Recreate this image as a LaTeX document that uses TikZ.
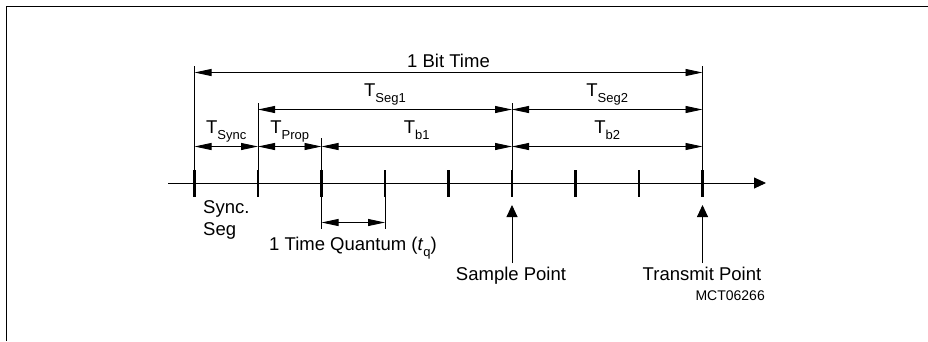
\documentclass[tikz,border=0pt]{standalone}
\usepackage{fontspec}
\setmainfont{Liberation Sans}
\usetikzlibrary{arrows.meta,calc}

\newcommand{\lowsub}[1]{\raisebox{-6pt}{\fontsize{13}{13}\selectfont #1}}

\begin{document}
\begin{tikzpicture}[x=1pt,y=-1pt,
  dim/.style={{Triangle[length=17pt,width=7pt]}-{Triangle[length=17pt,width=7pt]},line width=0.9pt},
  ext/.style={line width=0.9pt},
  lbl/.style={font=\fontsize{18.5}{22}\selectfont,inner sep=0pt,anchor=base},
  pointer/.style={-{Triangle[length=12pt,width=11pt]},line width=0.9pt}]
\useasboundingbox (0,0) rectangle (928,341);
% Frame
\draw[line width=1.2pt] (6.5,341) -- (6.5,6.5) -- (928,6.5);
% Levels of the dimension lines
\coordinate (lvTop) at (0,66);
\coordinate (lvMid) at (0,103);
\coordinate (lvLow) at (0,138);
\coordinate (lvBit) at (0,72.5);
\coordinate (lvSeg) at (0,109.5);
\coordinate (lvTq) at (0,146.5);
\coordinate (lvQ) at (0,222.5);
\coordinate (lvQe) at (0,228.5);
\coordinate (lvPt) at (0,263);
% Time axis
\coordinate (ax0) at (168,183);
\coordinate (ax1) at (766,183);
\draw[-{Triangle[length=12pt,width=11pt]},line width=0.9pt] (ax0) -- (ax1);
% Quantum ticks
\foreach \i in {0,...,8} {
  \coordinate (t\i) at ({194.5+63.5*\i},183);
  \coordinate (tb\i) at ({194.5+63.5*\i},197);
  \draw[line width=2.2pt] ($(t\i)+(0,-13)$) -- (tb\i);
}
% Extension lines
\draw[ext] (t0) -- (t0 |- lvTop);
\draw[ext] (t1) -- (t1 |- lvMid);
\draw[ext] (t2) -- (t2 |- lvLow);
\draw[ext] (t5) -- (t5 |- lvMid);
\draw[ext] (t8) -- (t8 |- lvTop);
\draw[ext] (tb2) -- (tb2 |- lvQe);
\draw[ext] (tb3) -- (tb3 |- lvQe);
% Bit time
\draw[dim] (t0 |- lvBit) -- (t8 |- lvBit)
  node[lbl,midway,yshift=5.5pt] (bit) {1 Bit Time};
% Segments
\draw[dim] (t1 |- lvSeg) -- (t5 |- lvSeg)
  node[lbl,midway,yshift=13.5pt] (seg1) {T\lowsub{Seg1}};
\draw[dim] (t5 |- lvSeg) -- (t8 |- lvSeg)
  node[lbl,midway,yshift=13.5pt] (seg2) {T\lowsub{Seg2}};
% Sync, propagation, phase buffers
\draw[dim] (t0 |- lvTq) -- (t1 |- lvTq)
  node[lbl,midway,yshift=13.5pt] (sync) {T\lowsub{Sync}};
\draw[dim] (t1 |- lvTq) -- (t2 |- lvTq)
  node[lbl,midway,yshift=13.5pt] (prop) {T\lowsub{Prop}};
\draw[dim] (t2 |- lvTq) -- (t5 |- lvTq)
  node[lbl,midway,yshift=13.5pt] (b1) {T\lowsub{b1}};
\draw[dim] (t5 |- lvTq) -- (t8 |- lvTq)
  node[lbl,midway,yshift=13.5pt] (b2) {T\lowsub{b2}};
% One time quantum
\draw[dim] (t2 |- lvQ) -- (t3 |- lvQ);
\node[lbl] (tq) at (353,250) {1 Time Quantum (\textit{t}\lowsub{q})};
\node[lbl,anchor=base west,align=left] (syncseg) at (203,235) {Sync.\\Seg};
% Sample and transmit points
\draw[pointer] (t5 |- lvPt) -- ($(tb5)+(0,8)$);
\draw[pointer] (t8 |- lvPt) -- ($(tb8)+(0,8)$);
\node[lbl] (sample) at (511,280) {Sample Point};
\node[lbl] (transmit) at (702,280) {Transmit Point};
\node[lbl,anchor=base east,font=\fontsize{14}{14}\selectfont] (code) at (765,300.5) {MCT06266};
\end{tikzpicture}
\end{document}
